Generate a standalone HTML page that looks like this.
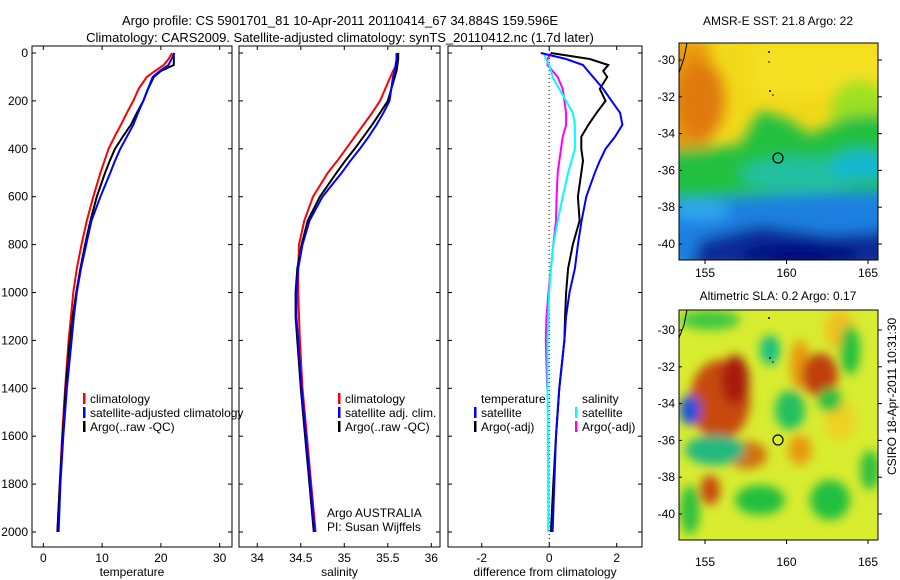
<!DOCTYPE html>
<html><head><meta charset="utf-8">
<style>
body{margin:0;background:#fff;}
svg{display:block;font-family:"Liberation Sans",sans-serif;}
</style></head>
<body>
<svg id="c" width="900" height="580" xmlns="http://www.w3.org/2000/svg">
<defs>
<filter id="bl" x="-50%" y="-50%" width="200%" height="200%"><feGaussianBlur stdDeviation="7"/></filter>
<filter id="bl2" x="-50%" y="-50%" width="200%" height="200%"><feGaussianBlur stdDeviation="5"/></filter>
<clipPath id="cm1"><rect x="679" y="43" width="199" height="217"/></clipPath>
<clipPath id="cm2"><rect x="679" y="310" width="199" height="230"/></clipPath>
</defs>
<text x="340" y="25" font-size="13" text-anchor="middle">Argo profile: CS 5901701_81 10-Apr-2011 20110414_67 34.884S 159.596E</text>
<text x="340" y="42" font-size="13" text-anchor="middle">Climatology: CARS2009. Satellite-adjusted climatology: synTS_20110412.nc (1.7d later)</text>

<g clip-path="url(#cm1)">
<rect x="679" y="43" width="199" height="217" fill="#f2d81a"/>
<g filter="url(#bl)">
<rect x="660" y="40" width="50" height="110" fill="#e89a10"/>
<ellipse cx="700" cy="100" rx="25" ry="40" fill="#e07a0a"/>
<rect x="750" y="45" width="140" height="50" fill="#f5e020"/>
<ellipse cx="860" cy="110" rx="30" ry="30" fill="#9ee020"/>
<path d="M660 150 L740 145 L760 110 L790 120 L810 135 L850 115 L900 115 L900 210 L660 210 Z" fill="#22c040"/>
<ellipse cx="800" cy="175" rx="60" ry="18" fill="#20c0a0"/>
<ellipse cx="860" cy="165" rx="30" ry="15" fill="#18b8d0"/>
<path d="M660 200 L900 190 L900 270 L660 270 Z" fill="#1a80e0"/>
<ellipse cx="700" cy="210" rx="30" ry="10" fill="#30a8f0"/>
<path d="M700 240 L760 225 L830 235 L900 230 L900 270 L690 270 Z" fill="#0a2a9a"/>
<ellipse cx="800" cy="255" rx="60" ry="12" fill="#000a80"/>
</g>
<path d="M679 73 L684 58 L687 43" stroke="#000" fill="none" stroke-width="1"/>
<circle cx="769" cy="52" r="1" fill="#000"/><circle cx="769" cy="62" r="0.8" fill="#000"/><circle cx="770" cy="91" r="1" fill="#000"/><circle cx="773" cy="95" r="0.8" fill="#000"/>
<circle cx="778" cy="158" r="5" fill="none" stroke="#000" stroke-width="1.2"/>
</g>
<rect x="679" y="43" width="199" height="217" fill="none" stroke="#000"/>
<text x="778" y="25" font-size="12" text-anchor="middle">AMSR-E SST: 21.8 Argo: 22</text>

<g clip-path="url(#cm2)">
<rect x="679" y="310" width="199" height="230" fill="#d8ec30"/>
<g filter="url(#bl2)">
<ellipse cx="720" cy="400" rx="30" ry="40" fill="#c84a08"/>
<ellipse cx="735" cy="380" rx="14" ry="25" fill="#a81a08"/>
<ellipse cx="800" cy="365" rx="10" ry="25" fill="#e89a10"/>
<ellipse cx="800" cy="450" rx="12" ry="15" fill="#e89a10"/>
<ellipse cx="747" cy="455" rx="20" ry="14" fill="#d0700a"/>
<ellipse cx="820" cy="375" rx="18" ry="22" fill="#c04008"/>
<ellipse cx="710" cy="490" rx="10" ry="15" fill="#c84a08"/>
<ellipse cx="840" cy="330" rx="15" ry="20" fill="#f0c020"/>
<ellipse cx="840" cy="420" rx="15" ry="20" fill="#f0d020"/>
<ellipse cx="770" cy="350" rx="10" ry="15" fill="#18c080"/>
<ellipse cx="790" cy="410" rx="15" ry="20" fill="#20c060"/>
<ellipse cx="715" cy="450" rx="30" ry="15" fill="#20b880"/>
<ellipse cx="690" cy="410" rx="10" ry="15" fill="#1850e0"/>
<ellipse cx="830" cy="400" rx="12" ry="12" fill="#20c040"/>
<ellipse cx="850" cy="350" rx="10" ry="25" fill="#20c040"/>
<ellipse cx="760" cy="500" rx="25" ry="15" fill="#20c040"/>
<ellipse cx="830" cy="500" rx="20" ry="20" fill="#20c040"/>
<ellipse cx="870" cy="470" rx="10" ry="20" fill="#30c040"/>
<ellipse cx="690" cy="510" rx="10" ry="25" fill="#30c040"/>
<ellipse cx="710" cy="320" rx="30" ry="10" fill="#40c840"/>
</g>
<path d="M679 338 L684 325 L687 310" stroke="#000" fill="none"/>
<circle cx="769" cy="318" r="1" fill="#000"/><circle cx="770" cy="358" r="1" fill="#000"/><circle cx="773" cy="362" r="0.8" fill="#000"/>
<circle cx="778" cy="440" r="5" fill="none" stroke="#000" stroke-width="1.2"/>
</g>
<rect x="679" y="310" width="199" height="230" fill="none" stroke="#000"/>
<text x="778" y="300" font-size="12" text-anchor="middle">Altimetric SLA: 0.2 Argo: 0.17</text>
<text transform="translate(896,475) rotate(-90)" font-size="12">CSIRO 18-Apr-2011 10:31:30</text>
<g id="maxes" font-size="12"></g>
<g id="plots"></g>
</svg>
<script>
const depths=[0,25,50,75,100,150,200,250,300,350,400,450,500,600,700,800,900,1000,1100,1200,1400,1600,1800,2000];
const tempClim=[21.9,21.3,20.5,19,17.6,16.2,15.3,14.2,13.2,12.1,11.1,10.4,9.7,8.5,7.4,6.5,5.7,5.1,4.7,4.3,3.7,3.2,2.8,2.4];
const tempSat=[22.3,21.8,21.3,19.8,18.6,17.8,17,16.1,15.3,14.2,13.1,12.2,11.4,9.7,8.2,7.3,6.4,5.7,5.2,4.8,4.0,3.4,2.9,2.6];
const tempArgo=[22.2,22.2,22.2,20,18.8,17.8,17,15.9,14.9,13.5,12.2,11.3,10.5,9.1,8,7.1,6.3,5.6,5.0,4.5,3.8,3.3,2.8,2.4];
const salClim=[35.6,35.61,35.6,35.56,35.53,35.47,35.41,35.32,35.22,35.12,35.02,34.92,34.81,34.64,34.54,34.48,34.47,34.47,34.48,34.49,34.52,34.57,34.62,34.67];
const salSat=[35.6,35.6,35.59,35.58,35.56,35.54,35.52,35.45,35.37,35.28,35.18,35.07,34.97,34.75,34.6,34.52,34.47,34.45,34.45,34.47,34.51,34.56,34.61,34.66];
const salArgo=[35.62,35.62,35.61,35.6,35.58,35.54,35.5,35.41,35.32,35.22,35.12,35.01,34.91,34.72,34.58,34.51,34.46,34.44,34.44,34.46,34.5,34.55,34.6,34.65];
const dTempSat=[-0.25,0.5,1.0,1.15,1.3,1.6,1.85,2.1,2.17,1.95,1.67,1.5,1.35,1.1,0.96,0.85,0.76,0.6,0.5,0.45,0.3,0.2,0.15,0.1];
const dTempArgo=[0.05,1.2,1.75,1.6,1.72,1.5,1.67,1.4,1.16,0.95,0.95,1.0,0.95,0.85,0.9,0.7,0.56,0.5,0.47,0.45,0.3,0.2,0.12,0.05];
const dSalSat=[-0.15,-0.1,0,0.05,0.1,0.3,0.5,0.7,0.76,0.76,0.76,0.66,0.56,0.4,0.25,0.12,0.05,0,-0.03,-0.05,-0.05,-0.04,-0.03,-0.03];
const dSalArgo=[0.05,-0.05,-0.05,0.1,0.25,0.4,0.45,0.5,0.5,0.4,0.35,0.3,0.25,0.22,0.2,0.12,0.05,-0.02,-0.08,-0.1,-0.06];
const depthTicks=[0,200,400,600,800,1000,1200,1400,1600,1800,2000];
const tempTicks=[0,10,20,30];
const salTicks=[34,34.5,35,35.5,36];
const diffTicks=[-2,0,2];
const latTicks=[-30,-32,-34,-36,-38,-40];
const lonTicks=[155,160,165];

const NS="http://www.w3.org/2000/svg";
const plotsG=document.getElementById('plots');
const maxesG=document.getElementById('maxes');
function mk(tag,attrs,parent){const e=document.createElementNS(NS,tag);for(const k in attrs)e.setAttribute(k,attrs[k]);(parent||plotsG).appendChild(e);return e;}
const yD=d=>53+d*(479/2000);
const panels=[
 {x0:32,x1:232,v0:-1.93,v1:32.1,ticks:tempTicks,label:'temperature',name:'temperature-panel'},
 {x0:239,x1:440,v0:33.79,v1:36.1,ticks:salTicks,label:'salinity',name:'salinity-panel'},
 {x0:448,x1:642,v0:-3.0,v1:2.75,ticks:diffTicks,label:'difference from climatology',name:'difference-panel'}
];
panels.forEach(p=>{p.sx=v=>p.x0+(v-p.v0)/(p.v1-p.v0)*(p.x1-p.x0);});
const pTop=46,pBot=547;
panels.forEach((p,i)=>{
  const g=mk('g',{});
  
  
  mk('rect',{x:p.x0,y:pTop,width:p.x1-p.x0,height:pBot-pTop,fill:'none',stroke:'#000'},g);
  depthTicks.forEach(d=>{
    mk('line',{x1:p.x0,x2:p.x0+4,y1:yD(d),y2:yD(d),stroke:'#000'},g);
    mk('line',{x1:p.x1,x2:p.x1-4,y1:yD(d),y2:yD(d),stroke:'#000'},g);
    if(i===0){const t=mk('text',{x:p.x0-4,y:yD(d)+4,'font-size':12,'text-anchor':'end'},g);t.textContent=d;
      }
  });
  p.ticks.forEach(v=>{
    const x=p.sx(v);
    mk('line',{x1:x,x2:x,y1:pBot,y2:pBot-4,stroke:'#000'},g);
    mk('line',{x1:x,x2:x,y1:pTop,y2:pTop+4,stroke:'#000'},g);
    const t=mk('text',{x:x,y:pBot+15,'font-size':12,'text-anchor':'middle'},g);t.textContent=v;
    
  });
  const xl=mk('text',{x:(p.x0+p.x1)/2,y:576,'font-size':12,'text-anchor':'middle'},g);xl.textContent=p.label;
  
});
function line(p,vals,color,name,w){
  const pts=vals.map((v,k)=>p.sx(v).toFixed(1)+','+yD(depths[k]).toFixed(1)).join(' ');
  const e=mk('polyline',{points:pts,fill:'none',stroke:color,'stroke-width':w||2});
  
  
}
const [P1,P2,P3]=panels;
mk('line',{x1:P3.sx(0),x2:P3.sx(0),y1:pTop,y2:pBot,stroke:'#000','stroke-dasharray':'1,3'});
line(P1,tempClim,'#f00','temp-climatology-line');
line(P1,tempArgo,'#000','temp-argo-line');
line(P1,tempSat,'#00f','temp-satellite-line');
line(P2,salClim,'#f00','sal-climatology-line');
line(P2,salArgo,'#000','sal-argo-line');
line(P2,salSat,'#00f','sal-satellite-line');
line(P3,dSalArgo,'#f0f','diff-sal-argo-line');
line(P3,dSalSat,'#0ff','diff-sal-satellite-line');
line(P3,dTempArgo,'#000','diff-temp-argo-line');
line(P3,dTempSat,'#00f','diff-temp-satellite-line');

function leg(x,y,color,label){
  const g=mk('g',{});
  
  
  if(color)mk('rect',{x:x-7,y:y-10,width:2.5,height:11,fill:color},g);
  const t=mk('text',{x:x,y:y,'font-size':12},g);t.textContent=label;
}
leg(90,403,'#f00','climatology');leg(90,417,'#00f','satellite-adjusted climatology');leg(90,431,'#000','Argo(..raw -QC)');
leg(345,403,'#f00','climatology');leg(345,417,'#00f','satellite adj. clim.');leg(345,431,'#000','Argo(..raw -QC)');
leg(481,403,null,'temperature');leg(481,417,'#00f','satellite');leg(481,431,'#000','Argo(-adj)');
leg(582,403,null,'salinity');leg(582,417,'#0ff','satellite');leg(582,431,'#f0f','Argo(-adj)');
const a1=mk('text',{x:327,y:517,'font-size':12});a1.textContent='Argo AUSTRALIA';

const a2=mk('text',{x:327,y:531,'font-size':12});a2.textContent='PI: Susan Wijffels';


const maps=[{x0:679,x1:878,ylat30:60,ylat40:244,yb:260,labY:277},{x0:679,x1:878,ylat30:330,ylat40:514,yb:540,labY:566}];
const lonX=l=>705+(l-155)*(868-705)/10;
maps.forEach(m=>{
  latTicks.forEach(l=>{
    const y=m.ylat30+(-30-l)/10*(m.ylat40-m.ylat30);
    mk('line',{x1:m.x1,x2:m.x1+4,y1:y,y2:y,stroke:'#000'},maxesG);
    mk('line',{x1:m.x0,x2:m.x0+3,y1:y,y2:y,stroke:'#000'},maxesG);
    const t=mk('text',{x:m.x0-4,y:y+4,'font-size':12,'text-anchor':'end'},maxesG);t.textContent=l;
    
  });
  lonTicks.forEach(l=>{
    const x=lonX(l);
    mk('line',{x1:x,x2:x,y1:m.yb,y2:m.yb+4,stroke:'#000'},maxesG);
    const t=mk('text',{x:x,y:m.labY,'font-size':12,'text-anchor':'middle'},maxesG);t.textContent=l;
    
  });
});
</script>
</body></html>
